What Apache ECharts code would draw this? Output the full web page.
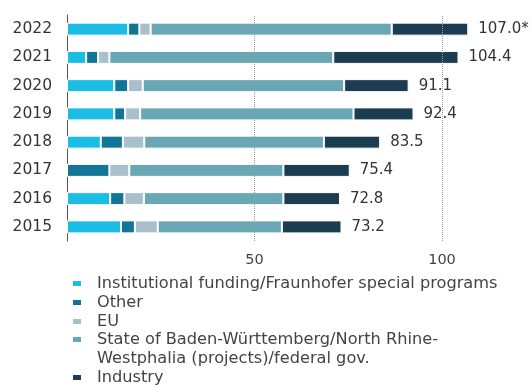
<!DOCTYPE html>
<html>
<head>
<meta charset="utf-8">
<script src="https://cdn.jsdelivr.net/npm/echarts@6/dist/echarts.min.js"></script>
<style>
html,body{margin:0;padding:0;background:#fff;}
#chart{width:532px;height:385px;}
</style>
</head>
<body>
<div id="chart"></div>
<script>
var years = ['2015','2016','2017','2018','2019','2020','2021','2022'];
var institutional = [14.4, 11.5, 0, 9.0, 12.6, 12.6, 5.1, 16.3];
var other = [3.7, 3.8, 11.3, 5.9, 2.9, 3.7, 3.2, 3.0];
var eu = [6.1, 5.2, 5.3, 5.7, 4.0, 3.9, 3.0, 3.0];
var state = [33.1, 37.2, 41.1, 47.9, 56.9, 53.7, 59.7, 64.3];
var industry = [15.9, 15.1, 17.7, 15.0, 16.0, 17.2, 33.4, 20.4];
var totalLabels = ['73.2','72.8','75.4','83.5','92.4','91.1','104.4','107.0*'];
var gridValues = [50, 100];
var tickLabels = ['50', '100'];

var names = {
  inst: 'Institutional funding/Fraunhofer special programs',
  other: 'Other',
  eu: 'EU',
  state: 'State of Baden-Württemberg/North Rhine-Westphalia (projects)/federal gov.',
  industry: 'Industry'
};
var stateLines = ['State of Baden-Württemberg/North Rhine-', 'Westphalia (projects)/federal gov.'];

var FONT = 'DejaVu Sans';
var chart = echarts.init(document.getElementById('chart'), null, {renderer: 'canvas'});

function bar(name, data, color, extra) {
  var s = {
    name: name,
    type: 'bar',
    stack: 'total',
    data: data,
    barWidth: 13,
    itemStyle: {color: color, borderColor: '#ffffff', borderWidth: 1},
    emphasis: {disabled: true},
    animation: false
  };
  if (extra) { for (var k in extra) s[k] = extra[k]; }
  return s;
}

var legendText = {fontFamily: FONT, fontSize: 16.2, color: '#444', lineHeight: 19, padding: [0, 0, 0, 10]};

function legendBlock(top, items) {
  return {
    orient: 'vertical',
    left: 66,
    top: top,
    height: 200,
    itemWidth: 10,
    itemHeight: 7,
    itemGap: 0,
    icon: 'rect',
    selectedMode: false,
    data: items,
    textStyle: legendText,
    formatter: function (n) {
      return n === names.state ? '\n' + stateLines[0] + '\n' + stateLines[1] : n;
    }
  };
}

var option = {
  backgroundColor: '#ffffff',
  animation: false,
  grid: {left: 67, top: 15, width: 450, height: 226, containLabel: false},
  xAxis: {
    type: 'value',
    min: 0,
    max: 120,
    interval: 50,
    axisLine: {show: false},
    axisTick: {show: false},
    splitLine: {show: false},
    axisLabel: {
      fontFamily: FONT,
      fontSize: 14.5,
      color: '#444',
      margin: 12,
      showMaxLabel: false,
      formatter: function (v) {
        var i = gridValues.indexOf(v);
        return i >= 0 ? tickLabels[i] : '';
      }
    }
  },
  yAxis: {
    type: 'category',
    data: years,
    axisLine: {show: true, lineStyle: {color: '#555', width: 1}},
    axisTick: {show: false},
    axisLabel: {fontFamily: FONT, fontSize: 15.5, color: '#333', margin: 15}
  },
  legend: [
    legendBlock(269, [names.inst, names.other, names.eu]),
    legendBlock(306, [names.state]),
    legendBlock(363, [names.industry])
  ],
  series: [
    bar(names.inst, institutional, '#1bbde4', {
      markLine: {
        silent: true,
        symbol: ['none', 'none'],
        label: {show: false},
        lineStyle: {type: 'dotted', color: '#9a9a9a', width: 1},
        emphasis: {disabled: true},
        data: gridValues.map(function (v) { return {xAxis: v}; })
      }
    }),
    bar(names.other, other, '#117597'),
    bar(names.eu, eu, '#a9c0cc'),
    bar(names.state, state, '#6aa7b4'),
    bar(names.industry, industry, '#1c3c51', {
      label: {
        show: true,
        position: 'right',
        distance: 10,
        fontFamily: FONT,
        fontSize: 15,
        color: '#333',
        formatter: function (p) { return totalLabels[p.dataIndex]; }
      }
    })
  ]
};
chart.setOption(option);
</script>
</body>
</html>
